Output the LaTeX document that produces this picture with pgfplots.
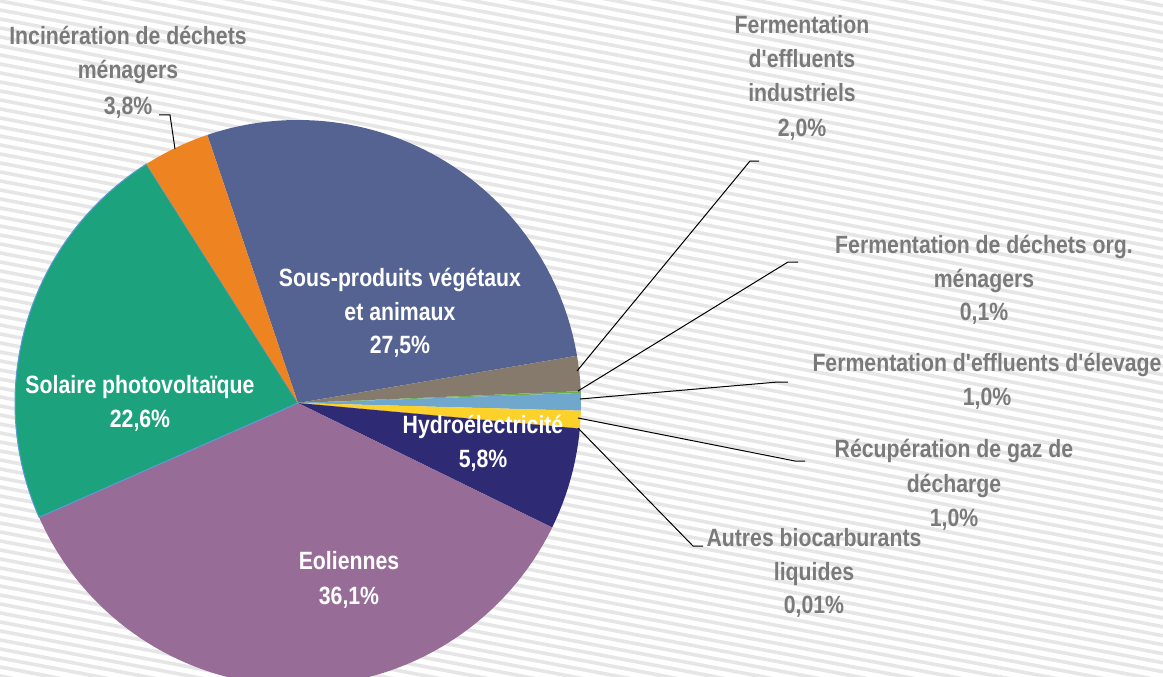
\documentclass[border=0pt]{standalone}
\usepackage{pgfplots}
\pgfplotsset{compat=1.18}
\usepackage{fontspec}
\newfontfamily\narrow{Liberation Sans}[FakeStretch=0.85]
\definecolor{cSous}{HTML}{556393}
\definecolor{cIndus}{HTML}{857A6C}
\definecolor{cOrg}{HTML}{70AD47}
\definecolor{cElev}{HTML}{6FA8CC}
\definecolor{cRecup}{HTML}{FCD12A}
\definecolor{cAutres}{HTML}{9E480E}
\definecolor{cHydro}{HTML}{2E2A74}
\definecolor{cEol}{HTML}{976D97}
\definecolor{cSol}{HTML}{1CA37D}
\definecolor{cSolEdge}{HTML}{5B9BD5}
\definecolor{cIncin}{HTML}{EE8321}
\definecolor{labgray}{HTML}{7A7A7A}
\definecolor{stripe}{HTML}{E6E6E6}
\newcommand\lf{\narrow\bfseries\fontsize{25}{34}\selectfont}
\newcommand\lab[4]{\node[anchor=base,inner sep=0pt,text=#3,font=\lf] at (axis cs:#1,#2) {#4};}
% pie: start angle (math degrees), values in %, total
\def\astart{108.7}
\def\total{99.91}
\newcommand\slice[3][]{%
  \pgfmathsetmacro\aend{\astart-#2*360/\total}%
  \begingroup\edef\tmpcmd{\endgroup\noexpand\addplot[fill=#3,draw=none,domain=\aend:\astart,samples=150,no markers,#1]}\tmpcmd
    ({298+283*cos(x)},{403-283*sin(x)}) -- (axis cs:298,403) -- cycle;
  \global\let\astart\aend
}
\begin{document}
\begin{tikzpicture}
\begin{axis}[x=1pt,y=1pt,xmin=0,xmax=1163,ymin=0,ymax=677,y dir=reverse,
  hide axis,clip=true,at={(0,0)},anchor=south west]
\pgfplotsinvokeforeach{-234,-225,...,684}{\draw[stripe,line width=3.6pt] (axis cs:-5,#1) -- ++(1180pt,-224pt);}
% slices, clockwise
\slice{27.5}{cSous}
\slice{2.0}{cIndus}
\slice{0.1}{cOrg}
\slice{1.0}{cElev}
\slice{1.0}{cRecup}
\slice{0.01}{cAutres}
\slice{5.8}{cHydro}
\slice{36.1}{cEol}
\slice[draw=cSolEdge,line width=1pt]{22.6}{cSol}
\slice{3.8}{cIncin}
% leader lines
\addplot[black,line width=1pt,no markers] coordinates {(159,115) (170,115) (175,149)};
\addplot[black,line width=1pt,no markers] coordinates {(759,161) (750,161) (577,371)};
\addplot[black,line width=1pt,no markers] coordinates {(798,262) (788,262) (578,391)};
\addplot[black,line width=1pt,no markers] coordinates {(788,382) (778,382) (580,399)};
\addplot[black,line width=1pt,no markers] coordinates {(805,461) (795,461) (578,418)};
\addplot[black,line width=1pt,no markers] coordinates {(703,546) (693,546) (578,428)};
% outside labels
\lab{128}{45}{labgray}{Incinération de déchets}
\lab{128}{79}{labgray}{ménagers}
\lab{128}{114}{labgray}{3,8\%}
\lab{802}{34}{labgray}{Fermentation}
\lab{802}{68}{labgray}{d'effluents}
\lab{802}{102}{labgray}{industriels}
\lab{802}{136}{labgray}{2,0\%}
\lab{984}{253}{labgray}{Fermentation de déchets org.}
\lab{984}{287}{labgray}{ménagers}
\lab{984}{320}{labgray}{0,1\%}
\lab{987}{371}{labgray}{Fermentation d'effluents d'élevage}
\lab{987}{405}{labgray}{1,0\%}
\lab{954}{457}{labgray}{Récupération de gaz de}
\lab{954}{492}{labgray}{décharge}
\lab{954}{526}{labgray}{1,0\%}
\lab{814}{546}{labgray}{Autres biocarburants}
\lab{814}{580}{labgray}{liquides}
\lab{814}{613}{labgray}{0,01\%}
% inside labels
\lab{400}{286}{white}{Sous-produits végétaux}
\lab{400}{320}{white}{et animaux}
\lab{400}{353}{white}{27,5\%}
\lab{140}{393}{white}{Solaire photovoltaïque}
\lab{140}{427}{white}{22,6\%}
\lab{483}{433}{white}{Hydroélectricité}
\lab{483}{467}{white}{5,8\%}
\lab{349}{569}{white}{Eoliennes}
\lab{349}{604}{white}{36,1\%}
\end{axis}
\pgfresetboundingbox
\useasboundingbox (current axis.south west) rectangle (current axis.north east);
\end{tikzpicture}
\end{document}
